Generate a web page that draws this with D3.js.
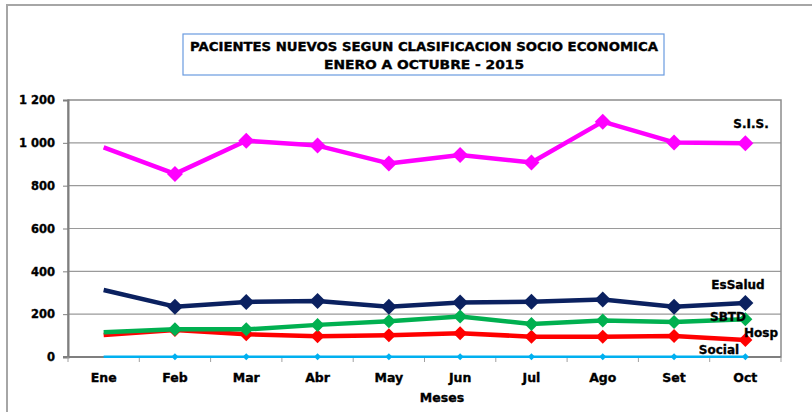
<!DOCTYPE html>
<html>
<head>
<meta charset="utf-8">
<script src="https://cdn.jsdelivr.net/npm/d3@7"></script>
<style>
  body { margin: 0; background: #fff; }
  svg { display: block; font-family: "DejaVu Sans", Verdana, sans-serif; font-weight: bold; }
  svg text { stroke: #000; stroke-width: 0.35px; }
</style>
</head>
<body>
<svg id="chart" width="812" height="412"></svg>
<script>
// data
const months = ["Ene", "Feb", "Mar", "Abr", "May", "Jun", "Jul", "Ago", "Set", "Oct"];
const sis     = [979, 855, 1010, 987, 904, 943, 908, 1099, 1002, 998];
const essalud = [313, 235, 257, 261, 235, 254, 258, 269, 235, 252];
const sbtd    = [115, 129, 129, 150, 167, 189, 154, 170, 163, 176];
const hosp    = [103, 126, 106, 97, 101, 111, 95, 94, 98, 79];
const social  = [1, 1, 1, 1, 1, 1, 1, 1, 1, 1];
const yTicks = [0, 200, 400, 600, 800, 1000, 1200];

const series = [
  { name: "S.I.S.", values: sis, color: "#ff00ff", w: 4.5, m: 8, lx: 751, ly: 128 },
  { name: "EsSalud", values: essalud, color: "#0b2160", w: 4.5, m: 8, lx: 738, ly: 289 },
  { name: "SBTD", values: sbtd, color: "#00b050", w: 4.5, m: 7, lx: 728, ly: 321 },
  { name: "Hosp", values: hosp, color: "#ff0000", w: 4.5, m: 7, lx: 761, ly: 337 },
  { name: "Social", values: social, color: "#00b0f0", w: 2.5, m: 3.5, lx: 719, ly: 354 }
];

const svg = d3.select("#chart");
const margin = { left: 68, right: 31, top: 100, bottom: 55 };
const W = 812, H = 412;

// outer chart border
svg.append("rect").attr("x", 7).attr("y", 5).attr("width", 830).attr("height", 430)
  .attr("fill", "none").attr("stroke", "#a6a6a6").attr("stroke-width", 2);

const x = d3.scaleBand().domain(months).range([margin.left, W - margin.right]);
const y = d3.scaleLinear().domain([0, 1200]).range([H - margin.bottom, margin.top]);

// gridlines
svg.append("g").selectAll("line").data(yTicks.slice(1, -1)).join("line")
  .attr("x1", margin.left).attr("x2", W - margin.right)
  .attr("y1", d => y(d)).attr("y2", d => y(d))
  .attr("stroke", "#9a9a9a").attr("stroke-width", 1.2);

// plot frame
svg.append("rect").attr("x", margin.left).attr("y", y(1200))
  .attr("width", W - margin.right - margin.left).attr("height", y(0) - y(1200))
  .attr("fill", "none").attr("stroke", "#8c8c8c").attr("stroke-width", 1.5);

// y axis
const yAxis = svg.append("g").attr("transform", `translate(${margin.left},0)`)
  .call(d3.axisLeft(y).tickValues(yTicks).tickSize(5).tickPadding(8)
    .tickFormat(d => d3.format(",")(d).replace(",", " ")));
yAxis.select(".domain").attr("stroke", "#7f7f7f").attr("stroke-width", 2);
yAxis.selectAll(".tick line").attr("stroke", "#7f7f7f");
yAxis.selectAll("text").attr("font-size", 11.5).attr("font-weight", "bold")
  .attr("font-family", "DejaVu Sans").attr("fill", "#000");

// x axis (ticks at category boundaries)
const xAxisG = svg.append("g").attr("transform", `translate(0,${y(0)})`);
xAxisG.append("line").attr("x1", margin.left - 5).attr("x2", W - margin.right)
  .attr("stroke", "#7f7f7f").attr("stroke-width", 2);
xAxisG.selectAll(".btick").data(months.concat(["end"])).join("line")
  .attr("x1", (d, i) => margin.left + i * x.step()).attr("x2", (d, i) => margin.left + i * x.step())
  .attr("y1", 0).attr("y2", 5).attr("stroke", "#a0a0a0");
xAxisG.selectAll("text").data(months).join("text")
  .attr("x", d => x(d) + x.bandwidth() / 2).attr("y", 25)
  .attr("text-anchor", "middle").attr("font-size", 12.5).text(d => d);

svg.append("text").attr("x", 442).attr("y", 402).attr("text-anchor", "middle")
  .attr("font-size", 12.5).text("Meses");

// lines
const line = d3.line().x((d, i) => x(months[i]) + x.bandwidth() / 2).y(d => y(d));
const diamond = s => `M0,${-s}L${s},0L0,${s}L${-s},0Z`;

series.slice().reverse().forEach(s => {
  svg.append("path").datum(s.values).attr("d", line)
    .attr("fill", "none").attr("stroke", s.color).attr("stroke-width", s.w)
    .attr("stroke-linejoin", "round");
  svg.append("g").selectAll("path").data(s.values.slice(1)).join("path")
    .attr("transform", (d, i) => `translate(${x(months[i + 1]) + x.bandwidth() / 2},${y(d)})`)
    .attr("d", diamond(s.m)).attr("fill", s.color);
  svg.append("text").attr("x", s.lx).attr("y", s.ly).attr("text-anchor", "middle")
    .attr("font-size", 12).text(s.name);
});

// title box
svg.append("rect").attr("x", 183).attr("y", 34).attr("width", 481).attr("height", 41)
  .attr("fill", "#fff").attr("stroke", "#6a9be0").attr("stroke-width", 1.2);
svg.append("text").attr("x", 424).attr("y", 51).attr("text-anchor", "middle")
  .attr("font-size", 11.5).attr("textLength", 468).attr("lengthAdjust", "spacingAndGlyphs")
  .text("PACIENTES  NUEVOS  SEGUN  CLASIFICACION  SOCIO  ECONOMICA");
svg.append("text").attr("x", 424).attr("y", 69).attr("text-anchor", "middle")
  .attr("font-size", 11.5).attr("textLength", 200).attr("lengthAdjust", "spacingAndGlyphs")
  .text("ENERO  A  OCTUBRE   -  2015");
</script>
</body>
</html>
